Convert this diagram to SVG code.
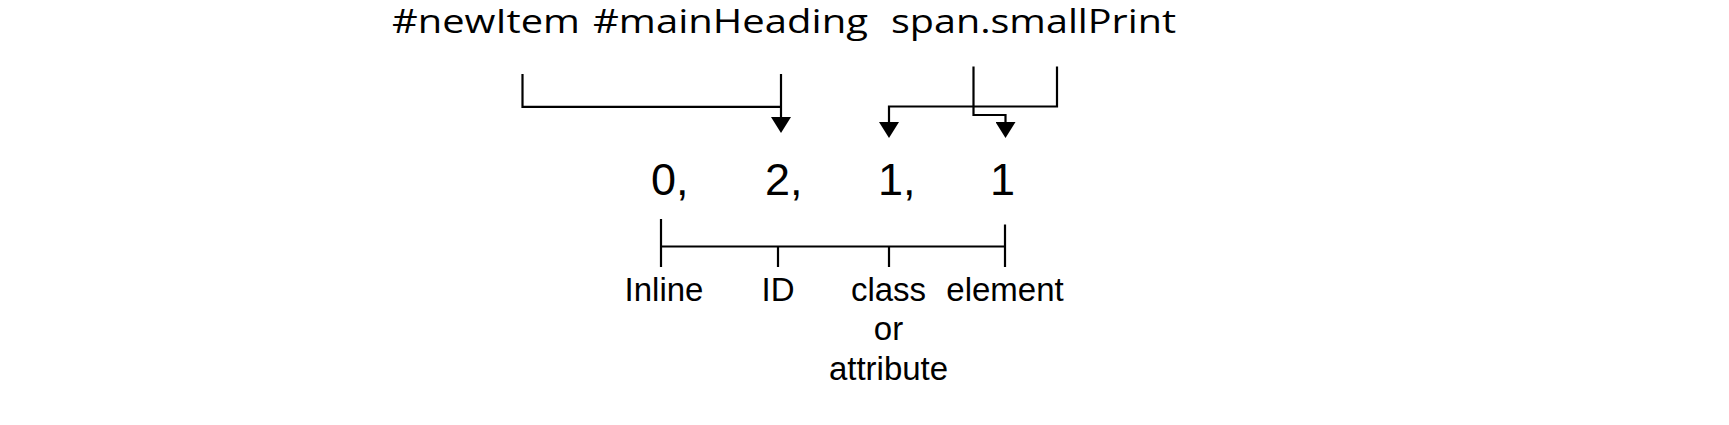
<svg xmlns="http://www.w3.org/2000/svg" width="1729" height="425" viewBox="0 0 1729 425">
  <style>
    .sel { font-family: "Open Sans", "Noto Sans", sans-serif; font-size: 32px; fill: #000; }
    .num { font-family: "Liberation Sans", Arial, sans-serif; font-size: 45px; fill: #000; }
    .lbl { font-family: "Liberation Sans", Arial, sans-serif; font-size: 33px; fill: #000; text-anchor: middle; }
    .ln { fill: none; stroke: #000; stroke-width: 2.2; }
  </style>
  <defs>
    <marker id="head" viewBox="0 0 16 20" refX="0" refY="10" markerWidth="16" markerHeight="20" markerUnits="userSpaceOnUse" orient="auto">
      <path d="M0,0 L16,10 L0,20 Z" fill="#000"/>
    </marker>
  </defs>
  <rect width="1729" height="425" fill="#fff"/>

  <g id="selectors">
    <text id="sel-newItem" class="sel" x="392" y="33" textLength="188" lengthAdjust="spacingAndGlyphs">#newItem</text>
    <text id="sel-mainHeading" class="sel" x="593" y="33" textLength="275" lengthAdjust="spacingAndGlyphs">#mainHeading</text>
    <text id="sel-span" class="sel" x="891" y="33" textLength="285" lengthAdjust="spacingAndGlyphs">span.smallPrint</text>
  </g>

  <g id="connectors">
    <path class="ln" d="M522.5,74 V106.8 H781"/>
    <path class="ln" d="M781,74 V117" marker-end="url(#head)"/>
    <path class="ln" d="M1057,66.5 V106.5 H889 V122" marker-end="url(#head)"/>
    <path class="ln" d="M973.5,66.5 V115 H1005.5 V122" marker-end="url(#head)"/>
  </g>

  <g id="specificity">
    <text class="num" x="651" y="195">0,</text>
    <text class="num" x="765" y="195">2,</text>
    <text class="num" x="878" y="195">1,</text>
    <text class="num" x="990" y="195">1</text>
  </g>

  <g id="scale">
    <path class="ln" d="M661,246.5 H1005"/>
    <path class="ln" d="M661,219 V267"/>
    <path class="ln" d="M778,246.5 V267"/>
    <path class="ln" d="M889,246.5 V267"/>
    <path class="ln" d="M1005,224.5 V267"/>
  </g>

  <g id="labels">
    <text id="lbl-inline" class="lbl" x="664" y="300.5">Inline</text>
    <text id="lbl-id" class="lbl" x="778" y="300.5">ID</text>
    <text id="lbl-class" class="lbl" x="888.5" y="300.5">class</text>
    <text class="lbl" x="888.5" y="340">or</text>
    <text class="lbl" x="888.5" y="380">attribute</text>
    <text id="lbl-element" class="lbl" x="1005" y="300.5">element</text>
  </g>
</svg>
